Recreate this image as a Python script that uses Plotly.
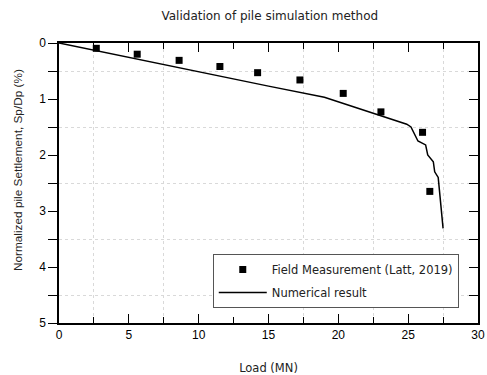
import plotly.graph_objects as go

# Field measurement (Latt, 2019)
field_load = [2.67, 5.6, 8.6, 11.52, 14.22, 17.25, 20.35, 23.05, 26.03, 26.55]
field_settle = [0.095, 0.2, 0.31, 0.42, 0.53, 0.66, 0.9, 1.23, 1.595, 2.65]

# Numerical result
num_load = [0, 5, 10, 15, 19, 22, 24.9, 25.2, 25.4, 25.7, 26.25, 26.4, 26.8, 26.9, 27.15, 27.27, 27.5]
num_settle = [0, 0.26, 0.52, 0.77, 0.97, 1.22, 1.45, 1.5, 1.6, 1.75, 1.82, 2.0, 2.12, 2.3, 2.4, 2.68, 3.31]

title_text = "Validation of pile simulation method"
x_title = "Load (MN)"
y_title = "Normalized pile Settlement, Sp/Dp (%)"

x_grid_vals = [2.5, 7.5, 17.5, 22.5, 27.5]
y_grid_vals = [0.5, 1.5, 2.5, 3.5, 4.5]

fig = go.Figure()
# helper invisible traces to activate overlay axes
fig.add_trace(go.Scatter(x=[0], y=[0], xaxis="x2", yaxis="y", mode="markers",
                         marker=dict(opacity=0), showlegend=False, hoverinfo="skip"))
fig.add_trace(go.Scatter(x=[0], y=[0], xaxis="x", yaxis="y2", mode="markers",
                         marker=dict(opacity=0), showlegend=False, hoverinfo="skip"))
fig.add_trace(go.Scatter(
    x=field_load, y=field_settle, mode="markers", name="Field Measurement (Latt, 2019)",
    marker=dict(symbol="square", size=7, color="black"), legendgroup="a"))
fig.add_trace(go.Scatter(
    x=num_load, y=num_settle, mode="lines", name="Numerical result",
    line=dict(color="black", width=1.5), legendgroup="b"))

grid_style = dict(gridcolor="#d9d9d9", griddash="dot", gridwidth=1)

fig.update_layout(
    width=487, height=375,
    margin=dict(l=59, r=9, t=43, b=52),
    paper_bgcolor="white", plot_bgcolor="white",
    title=dict(text=title_text, x=0.554, xanchor="center", y=0.957, yanchor="middle",
               font=dict(family="DejaVu Sans", size=12, color="#222")),
    xaxis=dict(range=[0, 30], dtick=5, tick0=0, showgrid=False, zeroline=False, automargin=False,
               showline=True, linecolor="black", linewidth=1.5, mirror="ticks",
               ticks="inside", ticklen=9, tickwidth=1.3, tickcolor="black",
               tickfont=dict(family="Liberation Sans", size=12, color="black"),
               minor=dict(dtick=2.5, tick0=0, ticks="inside", ticklen=6, tickcolor="black",
                          showgrid=False),
               title=dict(text=x_title, standoff=29,
                          font=dict(family="DejaVu Sans", size=11.5, color="#222"))),
    xaxis2=dict(range=[0, 30], overlaying="x", side="top", tickvals=x_grid_vals,
                showgrid=True, **grid_style, showticklabels=False, ticks="",
                zeroline=False, showline=False, automargin=False),
    yaxis=dict(range=[5, 0], dtick=1, tick0=0, showgrid=False, zeroline=False, automargin=False,
               showline=True, linecolor="black", linewidth=1.5,
               ticks="outside", ticklen=9, tickwidth=1.3, tickcolor="black",
               tickfont=dict(family="Liberation Sans", size=12, color="black"),
               minor=dict(tickvals=y_grid_vals, ticks="outside", ticklen=9, tickcolor="black",
                          showgrid=True, **grid_style)),
    yaxis2=dict(range=[5, 0], overlaying="y", side="right", dtick=0.5, tick0=0, automargin=False,
                showgrid=False, zeroline=False, showline=True, linecolor="black", linewidth=1.5,
                ticks="inside", ticklen=9, tickwidth=1.3, tickcolor="black",
                showticklabels=False),
    legend=dict(x=0.367, y=0.246, xanchor="left", yanchor="top",
                bgcolor="white", bordercolor="#555", borderwidth=1,
                font=dict(family="DejaVu Sans", size=11.5, color="#222"),
                itemwidth=48, traceorder="grouped", tracegroupgap=4),
    showlegend=True,
    annotations=[dict(text=y_title, textangle=-90, xref="paper", yref="paper",
                      x=-0.098, y=0.546, xanchor="center", yanchor="middle", showarrow=False,
                      font=dict(family="Liberation Sans", size=11.8, color="#222"))],
)

fig.write_html("out.html")
